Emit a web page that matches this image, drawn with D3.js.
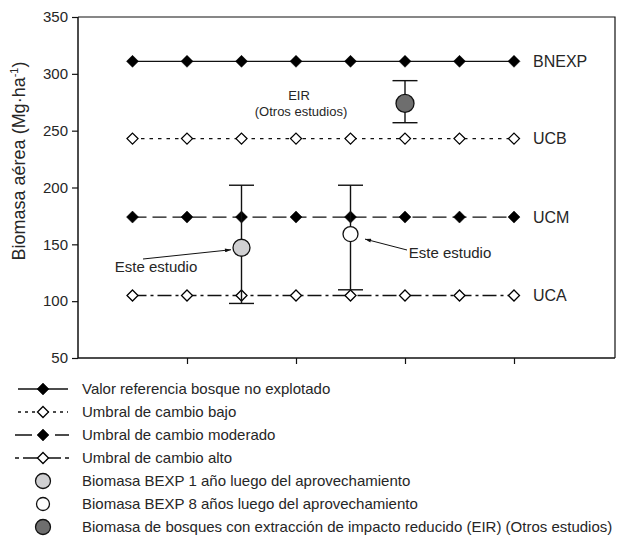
<!DOCTYPE html>
<html>
<head>
<meta charset="utf-8">
<script src="https://cdn.jsdelivr.net/npm/d3@7"></script>
<style>
  body { margin: 0; background: #fff; }
  svg { display: block; font-family: "Liberation Sans", Arial, sans-serif; }
  text { fill: #262626; }
</style>
</head>
<body>
<svg id="chart" width="623" height="543"></svg>
<script>
// positions along the x axis (no labels in the original)
const positions = [1, 2, 3, 4, 5, 6, 7, 8];
const xTicks = [2, 4, 6, 8];
const yTicks = [50, 100, 150, 200, 250, 300, 350];

// reference lines
const seriesNames = ["BNEXP", "UCB", "UCM", "UCA"];
const bnexp = [311, 311, 311, 311, 311, 311, 311, 311];
const ucb = [243, 243, 243, 243, 243, 243, 243, 243];
const ucm = [174, 174, 174, 174, 174, 174, 174, 174];
const uca = [105, 105, 105, 105, 105, 105, 105, 105];

// circles with error bars
const pointPos = [3, 5, 6];
const pointMean = [147, 159, 274];
const pointHigh = [202, 202, 294];
const pointLow = [98, 110, 257];

const legendLabels = [
  "Valor referencia bosque no explotado",
  "Umbral de cambio bajo",
  "Umbral de cambio moderado",
  "Umbral de cambio alto",
  "Biomasa BEXP 1 año luego del aprovechamiento",
  "Biomasa BEXP 8 años luego del aprovechamiento",
  "Biomasa de bosques con extracción de impacto reducido (EIR) (Otros estudios)"
];

const svg = d3.select("#chart");
const plotL = 78, plotR = 615, plotT = 17, plotB = 358;

const x = d3.scaleLinear().domain([0, 8]).range([plotL, 514]);
const y = d3.scaleLinear().domain([50, 350]).range([plotB, plotT]);

// line styles for each series (legend has its own dash layout)
const styles = [
  { dash: null, filled: true, legDash: null, x1: 18, x2: 68 },
  { dash: "3.5,5", filled: false, legDash: "3,4", x1: 18, x2: 68 },
  { dash: "14,6", filled: true, legDash: "17,23,14", x1: 15, x2: 69 },
  { dash: "14,4,3,4", filled: false, legDash: "4,4,38,4,4", x1: 15, x2: 69 }
];
const pointFill = ["#d0d0d2", "#ffffff", "#6e6e6e"];
const pointR = [8.5, 7.5, 9];

function diamond(s) {
  return `M0,${-s}L${s},0L0,${s}L${-s},0Z`;
}

// frame
svg.append("path")
  .attr("d", `M${plotL},${plotT}H${plotR}V${plotB}`)
  .attr("fill", "none").attr("stroke", "#111").attr("stroke-width", 1.2);

// axes
const yAxis = svg.append("g")
  .attr("transform", `translate(${plotL},0)`)
  .call(d3.axisLeft(y).tickValues(yTicks).tickSize(6).tickPadding(4));
const xAxis = svg.append("g")
  .attr("transform", `translate(0,${plotB})`)
  .call(d3.axisBottom(x).tickValues(xTicks).tickSize(6).tickFormat(""));

[yAxis, xAxis].forEach(a => {
  a.select(".domain").attr("stroke", "#111").attr("stroke-width", 1.5);
  a.selectAll(".tick line").attr("stroke", "#111").attr("stroke-width", 1.2);
});
xAxis.select(".domain").attr("d", `M${plotL},0H${plotR}`);
yAxis.select(".domain").attr("d", `M0,${plotT}V${plotB}`);
yAxis.selectAll(".tick text")
  .style("font-family", "Liberation Sans, Arial, sans-serif")
  .style("font-size", "15px").attr("fill", "#262626");

// y label
const ylab = svg.append("text")
  .attr("transform", `translate(25,161) rotate(-90)`)
  .attr("text-anchor", "middle")
  .style("font-size", "18px");
ylab.append("tspan").text("Biomasa aérea (Mg·ha");
ylab.append("tspan").attr("dy", -7).style("font-size", "11px").text("-1");
ylab.append("tspan").attr("dy", 7).text(")");

// reference series
const allSeries = [bnexp, ucb, ucm, uca];
const line = d3.line().x((d, i) => x(positions[i])).y(d => y(d));

allSeries.forEach((vals, si) => {
  const st = styles[si];
  svg.append("path")
    .attr("d", line(vals))
    .attr("fill", "none")
    .attr("stroke", "#111")
    .attr("stroke-width", 1.3)
    .attr("stroke-dasharray", st.dash);

  svg.selectAll(null)
    .data(vals)
    .enter()
    .append("path")
    .attr("d", diamond(st.filled ? 6 : 5.5))
    .attr("transform", (d, i) => `translate(${x(positions[i])},${y(d)})`)
    .attr("fill", st.filled ? "#000" : "#fff")
    .attr("stroke", "#000")
    .attr("stroke-width", st.filled ? 0.5 : 1.3);

  svg.append("text")
    .attr("x", 533)
    .attr("y", y(vals[vals.length - 1]))
    .attr("dy", "0.35em")
    .style("font-size", "16px")
    .text(seriesNames[si]);
});

// error bars + circles
pointPos.forEach((p, i) => {
  const cx = x(p);
  const g = svg.append("g").attr("stroke", "#111").attr("stroke-width", 1.4);
  g.append("line").attr("x1", cx).attr("x2", cx)
    .attr("y1", y(pointHigh[i])).attr("y2", y(pointLow[i]));
  g.append("line").attr("x1", cx - 12.5).attr("x2", cx + 12.5)
    .attr("y1", y(pointHigh[i])).attr("y2", y(pointHigh[i]));
  g.append("line").attr("x1", cx - 12.5).attr("x2", cx + 12.5)
    .attr("y1", y(pointLow[i])).attr("y2", y(pointLow[i]));
  svg.append("circle")
    .attr("cx", cx).attr("cy", y(pointMean[i])).attr("r", pointR[i])
    .attr("fill", pointFill[i]).attr("stroke", "#111").attr("stroke-width", 1.3);
});

// arrow marker
svg.append("defs").append("marker")
  .attr("id", "arr")
  .attr("viewBox", "0 -3 9 6")
  .attr("refX", 9).attr("refY", 0)
  .attr("markerWidth", 7).attr("markerHeight", 4)
  .attr("markerUnits", "userSpaceOnUse")
  .attr("orient", "auto")
  .append("path").attr("d", "M0,-3L9,0L0,3Z").attr("fill", "#111");

// annotations
svg.append("text").attr("x", 156).attr("y", 272)
  .attr("text-anchor", "middle").style("font-size", "15px").text("Este estudio");
svg.append("line")
  .attr("x1", 143).attr("y1", 259)
  .attr("x2", x(pointPos[0]) - pointR[0] - 2).attr("y2", y(pointMean[0]) + 2)
  .attr("stroke", "#111").attr("stroke-width", 1).attr("marker-end", "url(#arr)");

svg.append("text").attr("x", 450).attr("y", 258)
  .attr("text-anchor", "middle").style("font-size", "15px").text("Este estudio");
svg.append("line")
  .attr("x1", 407).attr("y1", 250)
  .attr("x2", x(pointPos[1]) + pointR[1] + 7).attr("y2", y(pointMean[1]) + 5)
  .attr("stroke", "#111").attr("stroke-width", 1).attr("marker-end", "url(#arr)");

svg.append("text").attr("x", 299).attr("y", 100)
  .attr("text-anchor", "middle").style("font-size", "13px").text("EIR");
svg.append("text").attr("x", 301).attr("y", 116)
  .attr("text-anchor", "middle").style("font-size", "13px").text("(Otros estudios)");

// legend
const legend = svg.append("g");
legendLabels.forEach((lab, i) => {
  const ly = 389 + i * 23;
  const row = legend.append("g").attr("transform", `translate(0,${ly})`);
  if (i < 4) {
    const st = styles[i];
    row.append("line").attr("x1", st.x1).attr("x2", st.x2)
      .attr("stroke", "#111").attr("stroke-width", 1.3)
      .attr("stroke-dasharray", st.legDash);
    row.append("path").attr("d", diamond(st.filled ? 6 : 5.5))
      .attr("transform", "translate(43,0)")
      .attr("fill", st.filled ? "#000" : "#fff")
      .attr("stroke", "#000").attr("stroke-width", st.filled ? 0.5 : 1.3);
  } else {
    const k = i - 4;
    row.append("circle").attr("cx", 43).attr("r", k === 1 ? 6.5 : 7.5)
      .attr("fill", pointFill[k]).attr("stroke", "#111").attr("stroke-width", 1.3);
  }
  row.append("text").attr("x", 82).attr("dy", "0.35em")
    .style("font-size", "15px").text(lab);
});
</script>
</body>
</html>
